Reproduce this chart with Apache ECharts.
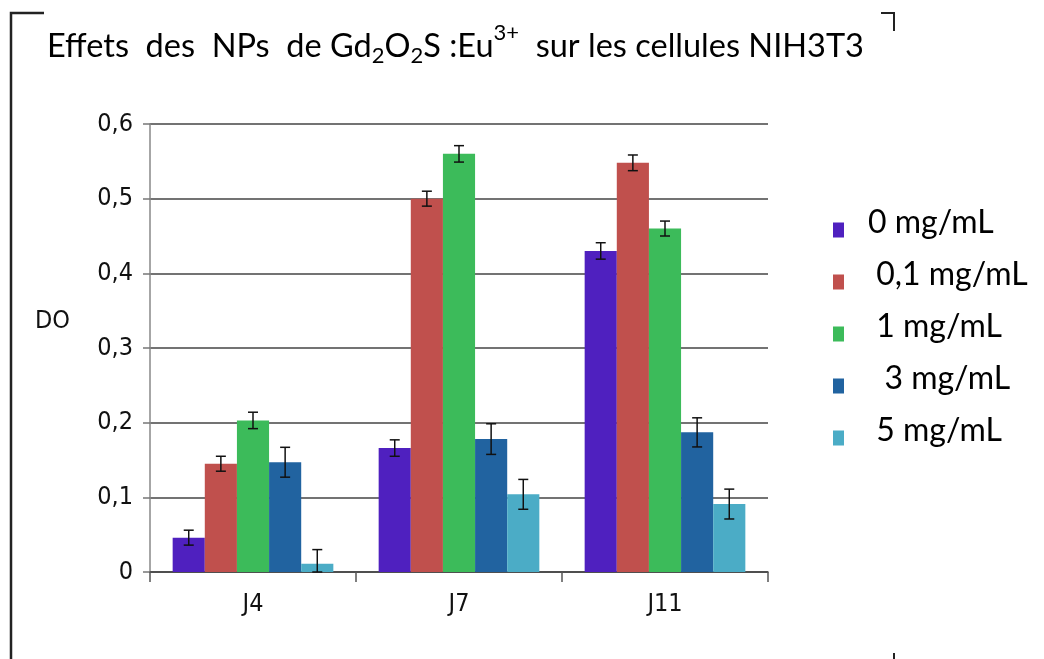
<!DOCTYPE html>
<html>
<head>
<meta charset="utf-8">
<script src="https://cdn.jsdelivr.net/npm/echarts@6/dist/echarts.min.js"></script>
<style>
  html, body { margin: 0; padding: 0; background: #fff; }
  #chart { width: 1044px; height: 659px; }
</style>
</head>
<body>
<div id="chart"></div>
<script>
// Optical density (DO) of NIH3T3 cells per day and NP dose
const days = ['J4', 'J7', 'J11'];
const doseNames = ['0 mg/mL', ' 0,1 mg/mL', ' 1 mg/mL', '  3 mg/mL', ' 5 mg/mL'];
const doseColors = ['#4f20bf', '#c0504d', '#3cbb5a', '#2163a0', '#4bacc6'];

const do0   = [0.046, 0.166, 0.430];
const do01  = [0.145, 0.500, 0.548];
const do1   = [0.203, 0.560, 0.460];
const do3   = [0.147, 0.178, 0.187];
const do5   = [0.011, 0.104, 0.091];

// standard deviations shown as error bars
const sd0   = [0.010, 0.011, 0.011];
const sd01  = [0.010, 0.010, 0.0105];
const sd1   = [0.011, 0.011, 0.010];
const sd3   = [0.020, 0.0205, 0.0195];
const sd5   = [0.019, 0.020, 0.020];

const yTicks = [0, 0.1, 0.2, 0.3, 0.4, 0.5, 0.6];

const values = [do0, do01, do1, do3, do5];
const sds = [sd0, sd01, sd1, sd3, sd5];

const CAT_GAP = 0.22;
const axisFont = "'Liberation Sans Narrow', 'DejaVu Sans Condensed', 'Liberation Sans', sans-serif";
const textFont = "Lato, 'Liberation Sans', sans-serif";

// legend swatch sits in the lower half of its box, below the text centre
const swatch = 'path://M0,0 L0.01,0 L0,0.01 Z M0,14 L11,14 L11,29 L0,29 Z';

const barSeries = values.map((vals, i) => ({
  name: doseNames[i],
  type: 'bar',
  data: vals,
  barGap: '0%',
  barCategoryGap: (CAT_GAP * 100) + '%',
  itemStyle: { color: doseColors[i] },
  emphasis: { disabled: true },
  z: 2
}));

const errData = [];
values.forEach((vals, si) => {
  vals.forEach((v, ci) => {
    errData.push([ci, si, Math.max(0, v - sds[si][ci]), v + sds[si][ci]]);
  });
});

const errorSeries = {
  type: 'custom',
  name: 'sd',
  data: errData,
  encode: { x: 0, y: 3 },
  z: 5,
  silent: true,
  renderItem: function (params, api) {
    const ci = api.value(0), si = api.value(1);
    const lo = api.value(2), hi = api.value(3);
    const band = api.size([1, 0])[0];
    const total = band * (1 - CAT_GAP);
    const bw = total / values.length;
    const cx = api.coord([ci, 0])[0] - total / 2 + bw * (si + 0.5);
    const yHi = api.coord([ci, hi])[1];
    const yLo = api.coord([ci, lo])[1];
    const half = 5;
    const style = { stroke: '#111', lineWidth: 1.5 };
    return {
      type: 'group',
      children: [
        { type: 'line', shape: { x1: cx, y1: yHi, x2: cx, y2: yLo }, style },
        { type: 'line', shape: { x1: cx - half, y1: yHi, x2: cx + half, y2: yHi }, style },
        { type: 'line', shape: { x1: cx - half, y1: yLo, x2: cx + half, y2: yLo }, style }
      ]
    };
  }
};

const chart = echarts.init(document.getElementById('chart'), null, { renderer: 'canvas' });

chart.setOption({
  animation: false,
  backgroundColor: '#fff',
  title: {
    left: 47,
    top: 22,
    padding: 0,
    text: 'Effets  des  NPs  de Gd{sub|2}O{sub|2}S :Eu{sup|3+}  sur les cellules NIH3T3',
    textStyle: {
      fontFamily: textFont,
      fontSize: 32.5,
      fontWeight: 'normal',
      color: '#000',
      lineHeight: 50,
      verticalAlign: 'middle',
      rich: {
        sub: { fontFamily: textFont, fontSize: 22, lineHeight: 22, verticalAlign: 'bottom', padding: [0, 0, 5, 0], color: '#000' },
        sup: { fontFamily: textFont, fontSize: 22, lineHeight: 22, verticalAlign: 'top', color: '#000' }
      }
    }
  },
  legend: {
    orient: 'vertical',
    left: 833,
    top: 207,
    itemWidth: 11,
    itemHeight: 29,
    itemGap: 20,
    padding: 0,
    icon: swatch,
    selectedMode: false,
    data: doseNames,
    textStyle: {
      fontFamily: textFont,
      fontSize: 32,
      color: '#000',
      lineHeight: 30,
      padding: [0, 0, 0, 19]
    }
  },
  grid: { left: 150, right: 276, top: 124, bottom: 87, containLabel: false },
  xAxis: {
    type: 'category',
    data: days,
    axisLine: { lineStyle: { color: '#444', width: 1.5 } },
    axisTick: { show: true, alignWithLabel: false, length: 10, lineStyle: { color: '#555', width: 1.5 } },
    axisLabel: { fontFamily: axisFont, fontSize: 25, color: '#111', margin: 20 },
    splitLine: { show: false }
  },
  yAxis: {
    type: 'value',
    min: 0,
    max: 0.6,
    interval: 0.1,
    axisLine: { show: true, lineStyle: { color: '#888', width: 1.5 } },
    axisTick: { show: true, length: 7, lineStyle: { color: '#777', width: 1.5 } },
    axisLabel: {
      fontFamily: axisFont, fontSize: 25, color: '#111', margin: 17,
      formatter: v => {
        const t = yTicks.find(x => Math.abs(x - v) < 1e-9);
        return String(t !== undefined ? t : v).replace('.', ',');
      }
    },
    splitLine: { show: true, lineStyle: { color: '#444', width: 1.5 } }
  },
  graphic: [
    { type: 'text', left: 35, top: 309, style: { text: 'DO', fontSize: 25, fontFamily: axisFont, fill: '#111' } },
    { type: 'polyline', shape: { points: [[11, 659], [11, 13], [44, 13]] }, style: { stroke: '#222', lineWidth: 2.5, fill: null } },
    { type: 'polyline', shape: { points: [[881, 13], [894, 13], [894, 31]] }, style: { stroke: '#222', lineWidth: 2, fill: null } },
    { type: 'line', shape: { x1: 894, y1: 653, x2: 894, y2: 659 }, style: { stroke: '#222', lineWidth: 2 } }
  ],
  series: barSeries.concat([errorSeries])
});
</script>
</body>
</html>
